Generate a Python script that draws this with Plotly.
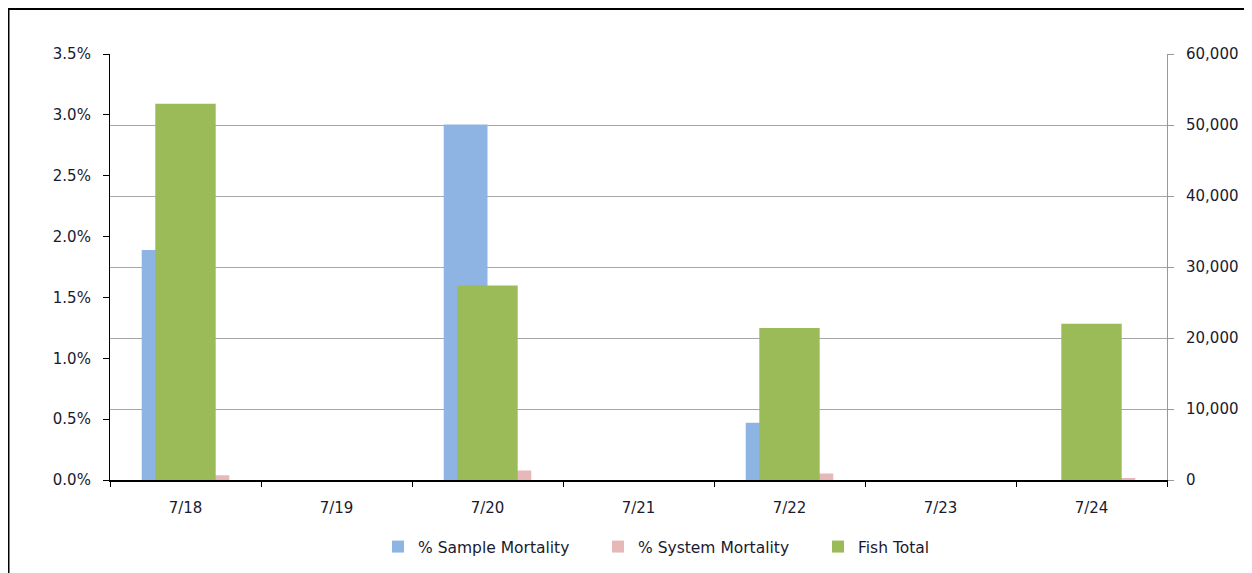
import plotly.graph_objects as go

dates = ["7/18", "7/19", "7/20", "7/21", "7/22", "7/23", "7/24"]
sample_mortality = [1.89, None, 2.92, None, 0.47, None, 0.0]
system_mortality = [0.04, None, 0.078, None, 0.053, None, 0.015]
fish_total = [53000, None, 27400, None, 21400, None, 22000]

left_ticks = [0, 0.5, 1.0, 1.5, 2.0, 2.5, 3.0, 3.5]
right_ticks = [0, 10000, 20000, 30000, 40000, 50000, 60000]

# page has an 8px body margin; figure coords = page coords - 8
W, H = 1244, 565
L, R, T, B = 102, 85, 46, 93
pw, ph = W - L - R, H - T - B

font = dict(family="DejaVu Sans", size=15, color="#1a1a2e")

fig = go.Figure()
fig.add_trace(go.Bar(x=dates, y=[v / 100 if v is not None else None for v in sample_mortality],
                     name="% Sample Mortality", marker=dict(color="#8EB4E3", line=dict(width=0)),
                     offset=-0.29, width=0.29, yaxis="y", opacity=1))
fig.add_trace(go.Bar(x=dates, y=[v / 100 if v is not None else None for v in system_mortality],
                     name="% System Mortality", marker=dict(color="#E6B9B8", line=dict(width=0)),
                     offset=0.0, width=0.29, yaxis="y", opacity=1))
fig.add_trace(go.Bar(x=dates, y=fish_total, name="Fish Total",
                     marker=dict(color="#9BBB59", line=dict(width=0)),
                     offset=-0.2, width=0.4, yaxis="y2", opacity=1))

legend_left_px = 370  # figure px where first legend item starts
fig.update_layout(
    width=W, height=H,
    margin=dict(l=L, r=R, t=T, b=B, autoexpand=False),
    paper_bgcolor="white", plot_bgcolor="white",
    barmode="overlay",
    font=font,
    showlegend=True,
    legend=dict(orientation="h", x=(legend_left_px - L) / pw, xanchor="left",
                y=-67 / ph, yanchor="middle",
                font=dict(family="DejaVu Sans", size=15.5, color="#1a1a2e"),
                itemsizing="constant", traceorder="normal", itemwidth=30,
                entrywidth=175, entrywidthmode="pixels"),
    xaxis=dict(type="category", showline=True, linecolor="black", linewidth=1.5,
               ticks="outside", tickson="boundaries", ticklen=5, tickcolor="black",
               showgrid=False, tickfont=font, range=[-0.5, 6.5], ticklabelstandoff=13),
    yaxis=dict(range=[0, 0.035], tickvals=[v / 100 for v in left_ticks],
               ticktext=[f"{v:.1f}%" for v in left_ticks],
               showline=True, linecolor="black", linewidth=1.2,
               ticks="outside", ticklen=6, tickcolor="black",
               showgrid=False, zeroline=False, tickfont=font, ticklabelstandoff=9),
    yaxis2=dict(range=[0, 60000], tickvals=right_ticks,
                ticktext=[f"{v:,}" for v in right_ticks],
                overlaying="y", side="right",
                showline=True, linecolor="#999999", linewidth=1,
                ticks="outside", ticklen=6, tickcolor="#999999",
                showgrid=True, gridcolor="#a6a6a6", gridwidth=1.2,
                zeroline=False, tickfont=font, ticklabelstandoff=9),
    shapes=[dict(type="rect", xref="paper", yref="paper",
                 x0=(0.5 - L) / pw, x1=(1262 - L) / pw,
                 y0=(H - B - 583) / ph, y1=(H - B - 1) / ph,
                 line=dict(color="black", width=2), fillcolor="rgba(0,0,0,0)", layer="above")],
)

fig.write_html("out.html")
